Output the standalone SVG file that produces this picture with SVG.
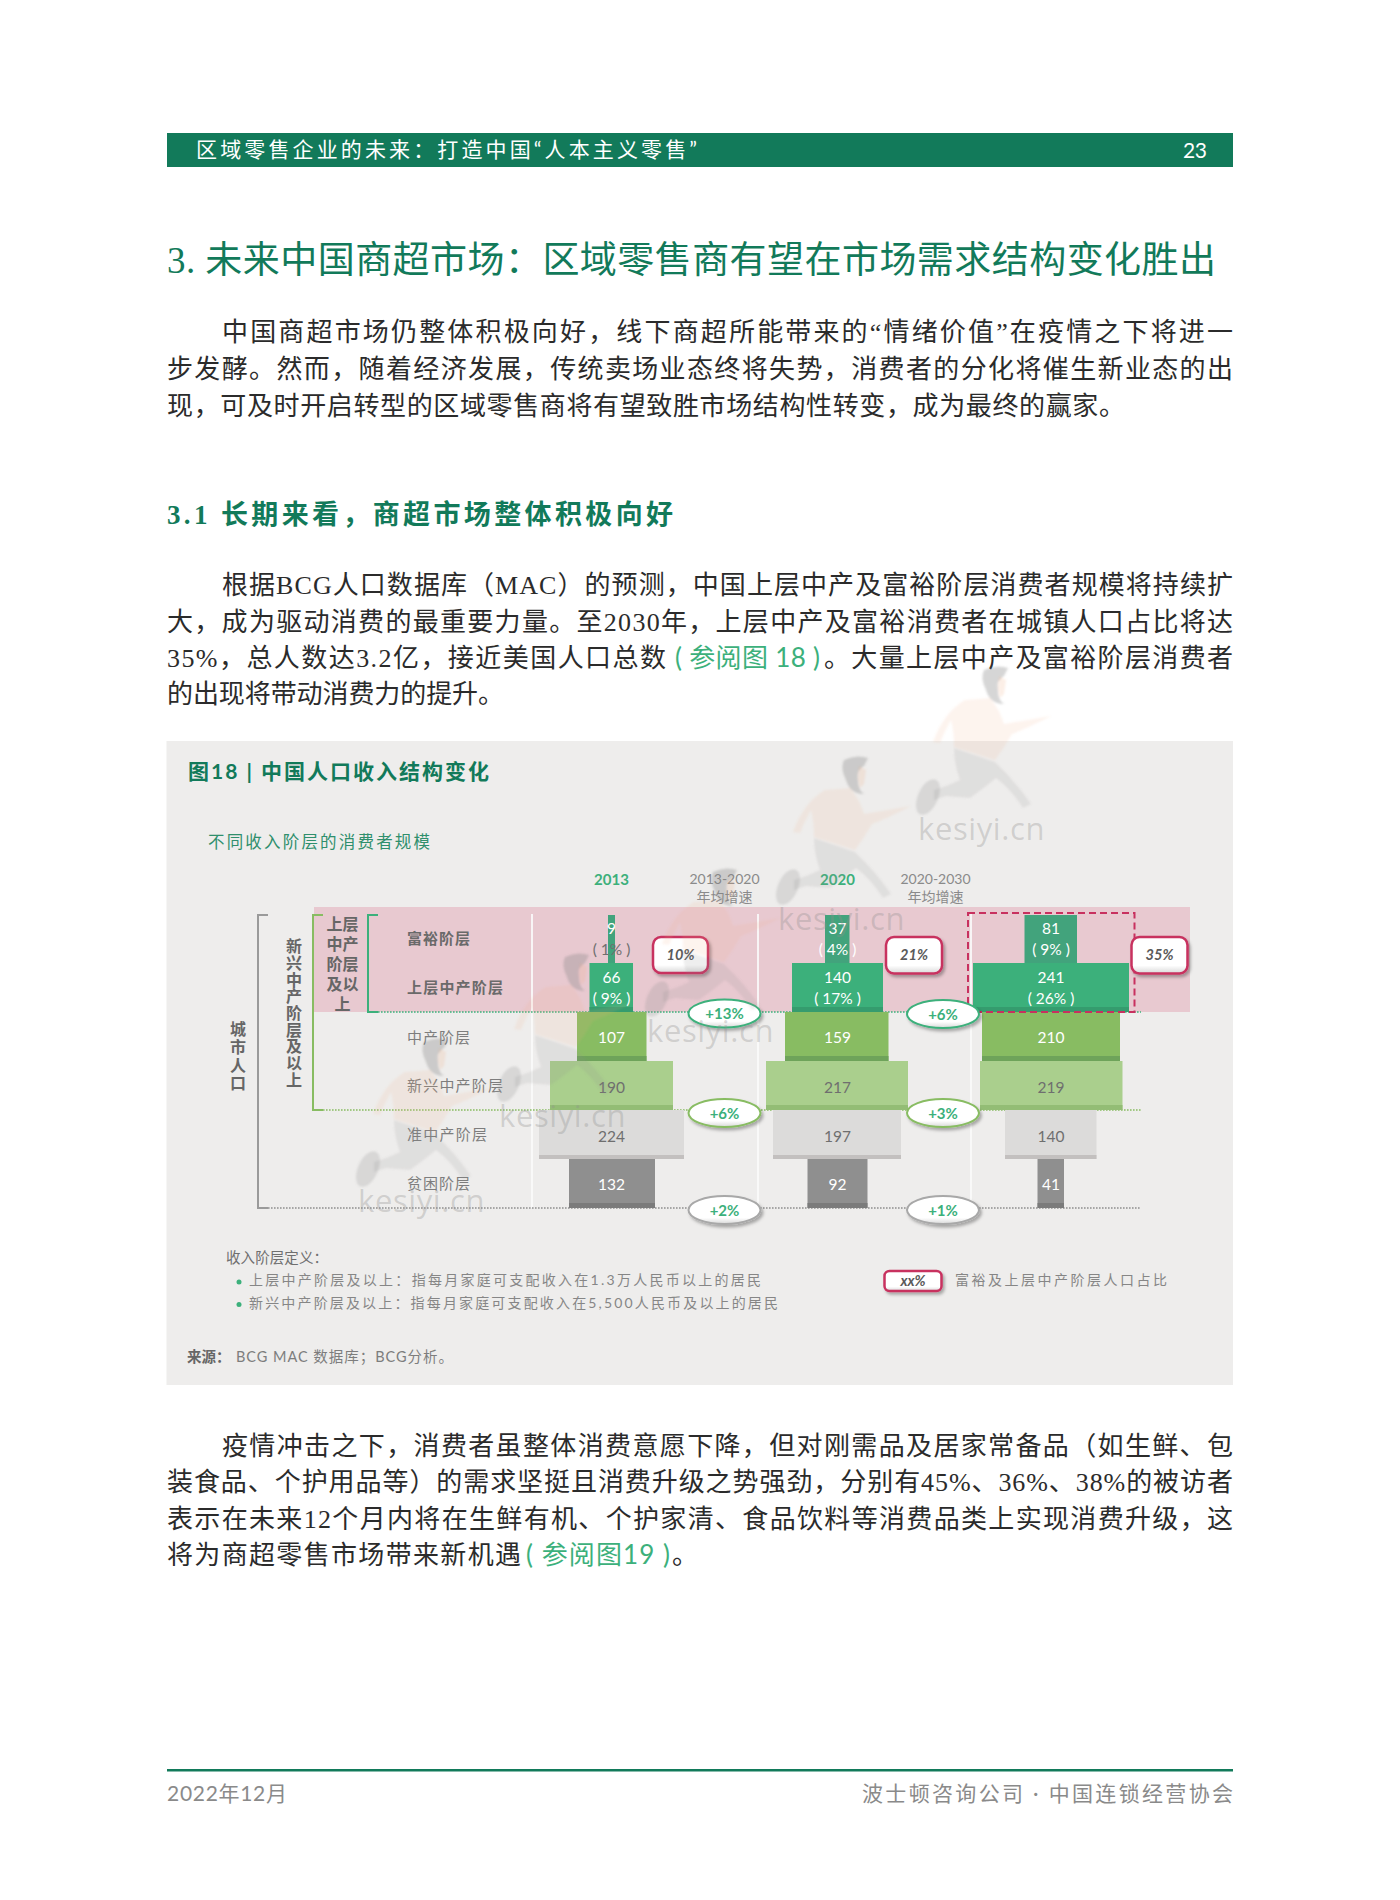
<svg xmlns="http://www.w3.org/2000/svg" width="1400" height="1900" viewBox="0 0 1400 1900">
<style>
text{font-family:"Lato","Noto Sans CJK SC",sans-serif}
.serif{font-family:"Liberation Serif","Noto Sans CJK SC",serif}
.body{font-size:26px;fill:#2b2b2b}
.link{font-size:26px;fill:#3cb07b;font-family:"Lato","Noto Sans CJK SC",sans-serif}
.foot{font-size:21px;fill:#8a8a8a}
.rb{font-size:15px;font-weight:700;fill:#6a6a6a}
.rl{font-size:15px;fill:#7d7d7d}
.vt{font-size:16px;font-weight:700;fill:#666;text-anchor:middle}
.v{font-size:15.5px;text-anchor:middle}
.w{fill:#fff}.g{fill:#6f6f6f}
.yr{font-size:15px;font-weight:700;fill:#3cb07b;text-anchor:middle}
.cg{font-size:14px;fill:#8a8a8a;text-anchor:middle}
.pct{font-size:14.5px;font-weight:700;font-style:italic;fill:#5a5a5a;text-anchor:middle}
.gr{font-size:15px;font-weight:700;fill:#3cb07b;text-anchor:middle}
.leg{font-size:14px;fill:#868686}
.box{fill:url(#bev);stroke:#c8305f;stroke-width:2.5;filter:url(#sh)}
.ov{fill:url(#bev);stroke-width:2;filter:url(#sh)}
.dot{fill:none;stroke-width:1.6;stroke-dasharray:1.6 1.4}
.br{fill:none;stroke-width:2}
.wm{font-size:31px;fill:#8f8f8f;fill-opacity:.32;letter-spacing:.6px;font-family:"Open Sans",sans-serif}
</style>
<defs>
<linearGradient id="bev" x1="0" y1="0" x2="0" y2="1"><stop offset="0" stop-color="#fff"/><stop offset=".78" stop-color="#fff"/><stop offset="1" stop-color="#d8d8d8"/></linearGradient>
<filter id="sh" x="-20%" y="-30%" width="140%" height="170%"><feDropShadow dx="2" dy="2.5" stdDeviation="1.5" flood-color="#000" flood-opacity=".3"/></filter>
<filter id="soft" x="-10%" y="-10%" width="120%" height="120%"><feGaussianBlur stdDeviation="1"/></filter>
<g id="fig" filter="url(#soft)">
<path d="M15-98Q26-128 47-140L72-142Q82-130 86-116L133-124Q110-112 94-106Q86-92 77-80L36-93Q36-108 33-120Q26-108 22-97Z" fill="#f0a878" fill-opacity=".13"/>
<path d="M36-92L77-78Q98-58 113-36L105-32Q92-52 78-62Q66-52 52-42L28-44 16-40V-50Q30-54 42-60Q36-76 36-92Z" fill="#8f8f8f" fill-opacity=".15"/>
<ellipse cx="10" cy="-43" rx="10" ry="19" transform="rotate(24 10 -43)" fill="#8f8f8f" fill-opacity=".24"/>
<path d="M66-170Q78-176 90-172L86-164Q78-160 80-150Q80-140 86-136Q72-136 68-150Q62-162 66-170Z" fill="#7f7f7f" fill-opacity=".32"/>
<path d="M81-164 88-160 86-146 82-142 80-152Z" fill="#f0a878" fill-opacity=".18"/>
</g>
</defs>
<rect width="1400" height="1900" fill="#fff"/>

<g id="page-header">
<rect x="167" y="133" width="1066" height="34" fill="#127a5a"/>
<text x="196" y="157" font-size="21" fill="#fff" textLength="501">区域零售企业的未来&#xFF1A;打造中国&#x201C;人本主义零售&#x201D;</text>
<text x="1183" y="158" font-size="21" fill="#fff" textLength="24">23</text>
</g>

<g id="heading">
<text class="serif" x="167" y="273" font-size="37" fill="#127a5a" textLength="1049">3. 未来中国商超市场&#xFF1A;区域零售商有望在市场需求结构变化胜出</text>
</g>

<g id="para-1">
<text class="serif body" x="222" y="341" textLength="1011">中国商超市场仍整体积极向好&#xFF0C;线下商超所能带来的&#x201C;情绪价值&#x201D;在疫情之下将进一</text>
<text class="serif body" x="167" y="378" textLength="1066">步发酵。然而&#xFF0C;随着经济发展&#xFF0C;传统卖场业态终将失势&#xFF0C;消费者的分化将催生新业态的出</text>
<text class="serif body" x="167" y="415" textLength="958">现&#xFF0C;可及时开启转型的区域零售商将有望致胜市场结构性转变&#xFF0C;成为最终的赢家。</text>
</g>

<g id="subheading">
<text class="serif" x="167" y="524" font-size="27" font-weight="700" fill="#127a5a" textLength="506">3.1 长期来看&#xFF0C;商超市场整体积极向好</text>
</g>

<g id="para-2">
<text class="serif body" x="222" y="594" textLength="1011">根据BCG人口数据库&#xFF08;MAC&#xFF09;的预测&#xFF0C;中国上层中产及富裕阶层消费者规模将持续扩</text>
<text class="serif body" x="167" y="631" textLength="1066">大&#xFF0C;成为驱动消费的最重要力量。至2030年&#xFF0C;上层中产及富裕消费者在城镇人口占比将达</text>
<text class="serif body" x="167" y="667" textLength="499">35%&#xFF0C;总人数达3.2亿&#xFF0C;接近美国人口总数</text>
<text class="link" x="675" y="667" textLength="145">( 参阅图 18 )</text>
<text class="serif body" x="824" y="667" textLength="409">。大量上层中产及富裕阶层消费者</text>
<text class="serif body" x="167" y="703" textLength="337">的出现将带动消费力的提升。</text>
</g>

<g id="figure-panel">
<rect x="166.500" y="741" width="1066.500" height="644" fill="#eeedec"/>
<text x="188" y="779" font-size="21" font-weight="700" fill="#127a5a" textLength="301">图18 | 中国人口收入结构变化</text>
<text x="208" y="848" font-size="16.500" fill="#2f8f6c" textLength="222">不同收入阶层的消费者规模</text>
<rect x="314" y="907" width="876" height="105" fill="#e8c9d0"/>
</g>

<g id="col-dividers" stroke="#fafafa" stroke-width="1.800">
<path d="M532 914V1208M758 914V1208M971 914V1208"/>
</g>

<g id="connectors">
<path class="dot" stroke="#3cb07b" d="M378 1012H1141"/>
<path class="dot" stroke="#88bc62" d="M323 1110H1141"/>
<path class="dot" stroke="#8f8f8f" d="M268 1208H1141"/>
<path class="br" stroke="#9a9a9a" d="M268 915H258V1208H268"/>
<path class="br" stroke="#88bc62" d="M323 915H313V1110H323"/>
<path class="br" stroke="#3cb07b" d="M378 915H368V1012H378"/>
</g>

<g id="axis-labels">
<text class="vt"><tspan x="238" y="1035">城</tspan><tspan x="238" y="1053">市</tspan><tspan x="238" y="1071">人</tspan><tspan x="238" y="1089">口</tspan></text>
<text class="vt"><tspan x="294" y="952">新</tspan><tspan x="294" y="969">兴</tspan><tspan x="294" y="986">中</tspan><tspan x="294" y="1002">产</tspan><tspan x="294" y="1019">阶</tspan><tspan x="294" y="1036">层</tspan><tspan x="294" y="1052">及</tspan><tspan x="294" y="1069">以</tspan><tspan x="294" y="1086">上</tspan></text>
<text class="vt"><tspan x="342.500" y="930">上层</tspan><tspan x="342.500" y="950">中产</tspan><tspan x="342.500" y="970">阶层</tspan><tspan x="342.500" y="990">及以</tspan><tspan x="342.500" y="1010">上</tspan></text>
<text class="rb" x="407" y="944" textLength="63">富裕阶层</text>
<text class="rb" x="407" y="993" textLength="96">上层中产阶层</text>
<text class="rl" x="407" y="1043" textLength="63">中产阶层</text>
<text class="rl" x="407" y="1091" textLength="96">新兴中产阶层</text>
<text class="rl" x="407" y="1140" textLength="80">准中产阶层</text>
<text class="rl" x="407" y="1189" textLength="63">贫困阶层</text>
</g>

<g id="col-2013">
<text class="yr" x="611.500" y="885">2013</text>
<rect x="608" y="915" width="7" height="48" fill="#42a37c"/>
<rect x="589.500" y="963" width="43.500" height="49" fill="#3cb07b"/><rect x="589.500" y="1007" width="43.500" height="5" fill="#359c6e"/>
<rect x="577" y="1012" width="69.500" height="49" fill="#88bc62"/><rect x="577" y="1056" width="69.500" height="5" fill="#6ea35a"/>
<rect x="550" y="1061" width="123" height="49" fill="#aacf8d"/><rect x="550" y="1105" width="123" height="5" fill="#93bd75"/>
<rect x="539" y="1110" width="145" height="49" fill="#dcdbda"/><rect x="539" y="1155" width="145" height="4" fill="#c3c0bf"/>
<rect x="569" y="1159" width="86" height="49" fill="#8f8f8f"/><rect x="569" y="1203" width="86" height="5" fill="#7b7b7b"/>
<text class="v w" x="611.500" y="934">9</text><text class="v g" x="611.500" y="955">( 1% )</text>
<text class="v w" x="611.500" y="983">66</text><text class="v w" x="611.500" y="1004">( 9% )</text>
<text class="v w" x="611.500" y="1043">107</text><text class="v g" x="611.500" y="1093">190</text>
<text class="v g" x="611.500" y="1142">224</text><text class="v w" x="611.500" y="1190">132</text>
</g>

<g id="col-2020">
<text class="yr" x="837.500" y="885">2020</text>
<rect x="825" y="915" width="24.500" height="48" fill="#42a37c"/>
<rect x="792" y="963" width="91" height="49" fill="#3cb07b"/><rect x="792" y="1007" width="91" height="5" fill="#359c6e"/>
<rect x="785" y="1012" width="103.500" height="49" fill="#88bc62"/><rect x="785" y="1056" width="103.500" height="5" fill="#6ea35a"/>
<rect x="766" y="1061" width="142" height="49" fill="#aacf8d"/><rect x="766" y="1105" width="142" height="5" fill="#93bd75"/>
<rect x="773" y="1110" width="128" height="49" fill="#dcdbda"/><rect x="773" y="1155" width="128" height="4" fill="#c3c0bf"/>
<rect x="807.500" y="1159" width="60" height="49" fill="#8f8f8f"/><rect x="807.500" y="1203" width="60" height="5" fill="#7b7b7b"/>
<text class="v w" x="837.500" y="934">37</text><text class="v w" x="837.500" y="955">( 4% )</text>
<text class="v w" x="837.500" y="983">140</text><text class="v w" x="837.500" y="1004">( 17% )</text>
<text class="v w" x="837.500" y="1043">159</text><text class="v g" x="837.500" y="1093">217</text>
<text class="v g" x="837.500" y="1142">197</text><text class="v w" x="837.500" y="1190">92</text>
</g>

<g id="col-2030">
<rect x="1024.500" y="915" width="52.500" height="48" fill="#42a37c"/>
<rect x="973" y="963" width="156" height="49" fill="#3cb07b"/><rect x="973" y="1007" width="156" height="5" fill="#359c6e"/>
<rect x="982" y="1012" width="138" height="49" fill="#88bc62"/><rect x="982" y="1056" width="138" height="5" fill="#6ea35a"/>
<rect x="980" y="1061" width="142.500" height="49" fill="#aacf8d"/><rect x="980" y="1105" width="142.500" height="5" fill="#93bd75"/>
<rect x="1005" y="1110" width="91.500" height="49" fill="#dcdbda"/><rect x="1005" y="1155" width="91.500" height="4" fill="#c3c0bf"/>
<rect x="1037.500" y="1159" width="26.500" height="49" fill="#8f8f8f"/><rect x="1037.500" y="1203" width="26.500" height="5" fill="#7b7b7b"/>
<text class="v w" x="1051" y="934">81</text><text class="v w" x="1051" y="955">( 9% )</text>
<text class="v w" x="1051" y="983">241</text><text class="v w" x="1051" y="1004">( 26% )</text>
<text class="v w" x="1051" y="1043">210</text><text class="v g" x="1051" y="1093">219</text>
<text class="v g" x="1051" y="1142">140</text><text class="v w" x="1051" y="1190">41</text>
<rect x="968" y="913" width="166.500" height="99" fill="none" stroke="#c8305f" stroke-width="2" stroke-dasharray="7 4"/>
</g>

<g id="growth-headers">
<text class="cg" x="724.500" y="884">2013-2020</text><text class="cg" x="724.500" y="902">年均增速</text>
<text class="cg" x="935.500" y="884">2020-2030</text><text class="cg" x="935.500" y="902">年均增速</text>
</g>

<g id="share-callouts">
<rect class="box" x="653" y="937" width="55" height="36" rx="8"/><text class="pct" x="680.500" y="960">10%</text>
<rect class="box" x="886" y="937" width="56" height="36.500" rx="8"/><text class="pct" x="914" y="960">21%</text>
<rect class="box" x="1131.500" y="937" width="56" height="36.500" rx="8"/><text class="pct" x="1159.500" y="960">35%</text>
</g>

<g id="growth-ovals">
<ellipse class="ov" stroke="#3cb07b" cx="724.500" cy="1013.500" rx="36" ry="14"/><text class="gr" x="724.500" y="1019">+13%</text>
<ellipse class="ov" stroke="#88bc62" cx="724.500" cy="1113" rx="36" ry="14"/><text class="gr" x="724.500" y="1118.500">+6%</text>
<ellipse class="ov" stroke="#a8a8a8" cx="724.500" cy="1210" rx="36" ry="14"/><text class="gr" x="724.500" y="1216">+2%</text>
<ellipse class="ov" stroke="#3cb07b" cx="943" cy="1014" rx="36" ry="14"/><text class="gr" x="943" y="1019.500">+6%</text>
<ellipse class="ov" stroke="#88bc62" cx="943" cy="1113" rx="36" ry="14"/><text class="gr" x="943" y="1118.500">+3%</text>
<ellipse class="ov" stroke="#a8a8a8" cx="943" cy="1210" rx="36" ry="14"/><text class="gr" x="943" y="1216">+1%</text>
</g>

<g id="legend">
<text x="226" y="1263" font-size="14.500" fill="#6f6f6f" textLength="102">收入阶层定义&#xFF1A;</text>
<circle cx="239" cy="1282" r="2.500" fill="#3cb07b"/><circle cx="239" cy="1304.500" r="2.500" fill="#3cb07b"/>
<text class="leg" x="249" y="1285" textLength="512">上层中产阶层及以上&#xFF1A;指每月家庭可支配收入在1.3万人民币以上的居民</text>
<text class="leg" x="249" y="1308" textLength="529">新兴中产阶层及以上&#xFF1A;指每月家庭可支配收入在5,500人民币及以上的居民</text>
<rect class="box" x="884.500" y="1271" width="57" height="20" rx="5"/><text class="pct" x="913" y="1286" font-size="13">xx%</text>
<text class="leg" x="955" y="1285" textLength="212">富裕及上层中产阶层人口占比</text>
</g>

<g id="source">
<text x="187" y="1362" font-size="14.500" font-weight="700" fill="#666">来源&#xFF1A;</text>
<text x="236" y="1362" font-size="14.500" fill="#7d7d7d" textLength="217">BCG MAC 数据库&#xFF1B;BCG分析。</text>
</g>

<g id="para-3">
<text class="serif body" x="222" y="1455" textLength="1011">疫情冲击之下&#xFF0C;消费者虽整体消费意愿下降&#xFF0C;但对刚需品及居家常备品&#xFF08;如生鲜、包</text>
<text class="serif body" x="167" y="1491" textLength="1066">装食品、个护用品等&#xFF09;的需求坚挺且消费升级之势强劲&#xFF0C;分别有45%、36%、38%的被访者</text>
<text class="serif body" x="167" y="1528" textLength="1066">表示在未来12个月内将在生鲜有机、个护家清、食品饮料等消费品类上实现消费升级&#xFF0C;这</text>
<text class="serif body" x="167" y="1564" textLength="354">将为商超零售市场带来新机遇</text>
<text class="link" x="526" y="1564" textLength="144">( 参阅图19 )</text>
<text class="serif body" x="672" y="1564">。</text>
</g>

<g id="footer">
<rect x="167" y="1769" width="1066" height="2.500" fill="#127a5a"/>
<text class="foot" x="167" y="1801" textLength="120">2022年12月</text>
<text class="foot" x="862" y="1801" textLength="371">波士顿咨询公司 · 中国连锁经营协会</text>
</g>

<g id="watermarks">
<use href="#fig" x="918" y="840"/><text class="wm" x="918" y="840">kesiyi.cn</text>
<use href="#fig" x="778" y="930"/><text class="wm" x="778" y="930">kesiyi.cn</text>
<use href="#fig" x="647" y="1042"/><text class="wm" x="647" y="1042">kesiyi.cn</text>
<use href="#fig" x="499" y="1127"/><text class="wm" x="499" y="1127">kesiyi.cn</text>
<use href="#fig" x="358" y="1212"/><text class="wm" x="358" y="1212">kesiyi.cn</text>
</g>
</svg>
